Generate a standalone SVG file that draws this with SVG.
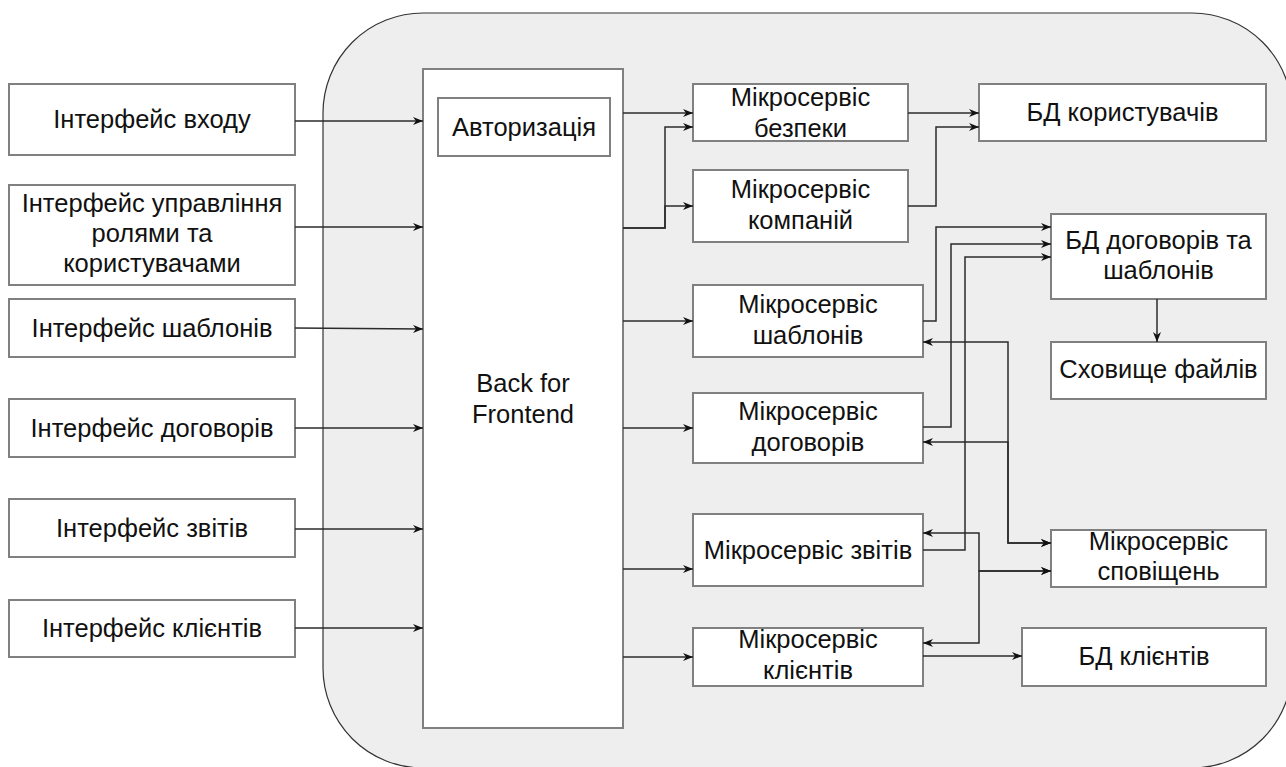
<svg xmlns="http://www.w3.org/2000/svg" width="1286" height="767" viewBox="0 0 1286 767">
  <style>
    .box { fill: #ffffff; stroke: #808080; stroke-width: 2; }
    .lbl { font-family: "Liberation Sans", Arial, sans-serif; font-size: 25.5px; fill: #111111; text-anchor: middle; }
    .wire { fill: none; stroke: #2b2b2b; stroke-width: 1.5; }
  </style>
  <defs>
    <marker id="arrow" viewBox="0 0 10 8" refX="10" refY="4" markerWidth="10" markerHeight="8" markerUnits="userSpaceOnUse" orient="auto-start-reverse">
      <path d="M0,0 L10,4 L0,8 L3,4 z" fill="#111111"/>
    </marker>
  </defs>

  <rect width="1286" height="767" fill="#ffffff"/>

  <!-- backend boundary -->
  <rect id="backend-area" x="323" y="13" width="969" height="755" rx="100" ry="100" fill="#eeeeee" stroke="#333333" stroke-width="1.2"/>

  <!-- client interfaces -->
  <g id="ui-login">
    <rect class="box" x="9" y="84" width="286" height="71"/>
    <text class="lbl" x="152" y="128">Інтерфейс входу</text>
  </g>
  <g id="ui-roles">
    <rect class="box" x="9" y="185" width="286" height="100"/>
    <text class="lbl" x="152" y="212">Інтерфейс управління</text>
    <text class="lbl" x="152" y="242">ролями та</text>
    <text class="lbl" x="152" y="272">користувачами</text>
  </g>
  <g id="ui-templates">
    <rect class="box" x="9" y="299" width="286" height="58"/>
    <text class="lbl" x="152" y="337">Інтерфейс шаблонів</text>
  </g>
  <g id="ui-contracts">
    <rect class="box" x="9" y="399" width="286" height="58"/>
    <text class="lbl" x="152" y="437">Інтерфейс договорів</text>
  </g>
  <g id="ui-reports">
    <rect class="box" x="9" y="499" width="286" height="58"/>
    <text class="lbl" x="152" y="537">Інтерфейс звітів</text>
  </g>
  <g id="ui-clients">
    <rect class="box" x="9" y="600" width="286" height="57"/>
    <text class="lbl" x="152" y="637">Інтерфейс клієнтів</text>
  </g>

  <!-- back for frontend -->
  <g id="bff">
    <rect class="box" x="423" y="69" width="200" height="659"/>
    <text class="lbl" x="523" y="392">Back for</text>
    <text class="lbl" x="523" y="423">Frontend</text>
  </g>
  <g id="auth">
    <rect class="box" x="438" y="98" width="172" height="58"/>
    <text class="lbl" x="524" y="136">Авторизація</text>
  </g>

  <!-- microservices -->
  <g id="ms-security">
    <rect class="box" x="693" y="84" width="215" height="57"/>
    <text class="lbl" x="800.5" y="106">Мікросервіс</text>
    <text class="lbl" x="800.5" y="137">безпеки</text>
  </g>
  <g id="ms-companies">
    <rect class="box" x="693" y="170" width="215" height="72"/>
    <text class="lbl" x="800.5" y="198">Мікросервіс</text>
    <text class="lbl" x="800.5" y="229">компаній</text>
  </g>
  <g id="ms-templates">
    <rect class="box" x="693" y="285" width="230" height="72"/>
    <text class="lbl" x="808" y="313">Мікросервіс</text>
    <text class="lbl" x="808" y="344">шаблонів</text>
  </g>
  <g id="ms-contracts">
    <rect class="box" x="693" y="393" width="230" height="70"/>
    <text class="lbl" x="808" y="420">Мікросервіс</text>
    <text class="lbl" x="808" y="451">договорів</text>
  </g>
  <g id="ms-reports">
    <rect class="box" x="693" y="514" width="230" height="72"/>
    <text class="lbl" x="808" y="559">Мікросервіс звітів</text>
  </g>
  <g id="ms-clients">
    <rect class="box" x="693" y="628" width="230" height="58"/>
    <text class="lbl" x="808" y="648">Мікросервіс</text>
    <text class="lbl" x="808" y="679">клієнтів</text>
  </g>

  <!-- storage and notifications -->
  <g id="db-users">
    <rect class="box" x="979" y="84" width="287" height="57"/>
    <text class="lbl" x="1122.5" y="121">БД користувачів</text>
  </g>
  <g id="db-contracts">
    <rect class="box" x="1051" y="214" width="215" height="85"/>
    <text class="lbl" x="1158.5" y="249">БД договорів та</text>
    <text class="lbl" x="1158.5" y="279">шаблонів</text>
  </g>
  <g id="file-storage">
    <rect class="box" x="1051" y="342" width="215" height="57"/>
    <text class="lbl" x="1158.5" y="378">Сховище файлів</text>
  </g>
  <g id="ms-notifications">
    <rect class="box" x="1051" y="530" width="215" height="57"/>
    <text class="lbl" x="1158.5" y="550">Мікросервіс</text>
    <text class="lbl" x="1158.5" y="580">сповіщень</text>
  </g>
  <g id="db-clients">
    <rect class="box" x="1022" y="628" width="244" height="58"/>
    <text class="lbl" x="1144" y="665">БД клієнтів</text>
  </g>

  <!-- connectors -->
  <g id="connectors">
    <!-- interfaces to BFF -->
    <path class="wire" d="M295,121 H423" marker-end="url(#arrow)"/>
    <path class="wire" d="M295,227 H423" marker-end="url(#arrow)"/>
    <path class="wire" d="M295,328 L423,329" marker-end="url(#arrow)"/>
    <path class="wire" d="M295,428 H423" marker-end="url(#arrow)"/>
    <path class="wire" d="M295,529 H423" marker-end="url(#arrow)"/>
    <path class="wire" d="M295,628 H423" marker-end="url(#arrow)"/>

    <!-- BFF to microservices -->
    <path class="wire" d="M623,113 H693" marker-end="url(#arrow)"/>
    <path class="wire" d="M623,228 H665 V127 H693" marker-end="url(#arrow)"/>
    <path class="wire" d="M623,228 H665 V206 H693" marker-end="url(#arrow)"/>
    <path class="wire" d="M623,321 H693" marker-end="url(#arrow)"/>
    <path class="wire" d="M623,428 H693" marker-end="url(#arrow)"/>
    <path class="wire" d="M623,569 H693" marker-end="url(#arrow)"/>
    <path class="wire" d="M623,657 H693" marker-end="url(#arrow)"/>

    <!-- microservices to databases -->
    <path class="wire" d="M908,113 H979" marker-end="url(#arrow)"/>
    <path class="wire" d="M908,206 H936 V127 H979" marker-end="url(#arrow)"/>
    <path class="wire" d="M923,321 H936 V227 H1051" marker-end="url(#arrow)"/>
    <path class="wire" d="M923,427 H951 V244 H1051" marker-end="url(#arrow)"/>
    <path class="wire" d="M923,550 H965 V257 H1051" marker-end="url(#arrow)"/>
    <path class="wire" d="M1157,299 V342" marker-end="url(#arrow)"/>
    <path class="wire" d="M923,656 H1022" marker-end="url(#arrow)"/>

    <!-- notification links -->
    <path class="wire" d="M923,342 H1008 V543 H1051" marker-start="url(#arrow)" marker-end="url(#arrow)"/>
    <path class="wire" d="M923,442 H1008 V543 H1051" marker-start="url(#arrow)" marker-end="url(#arrow)"/>
    <path class="wire" d="M923,533 H979 V571 H1051" marker-start="url(#arrow)" marker-end="url(#arrow)"/>
    <path class="wire" d="M923,643 H979 V571 H1051" marker-start="url(#arrow)" marker-end="url(#arrow)"/>
  </g>
</svg>
